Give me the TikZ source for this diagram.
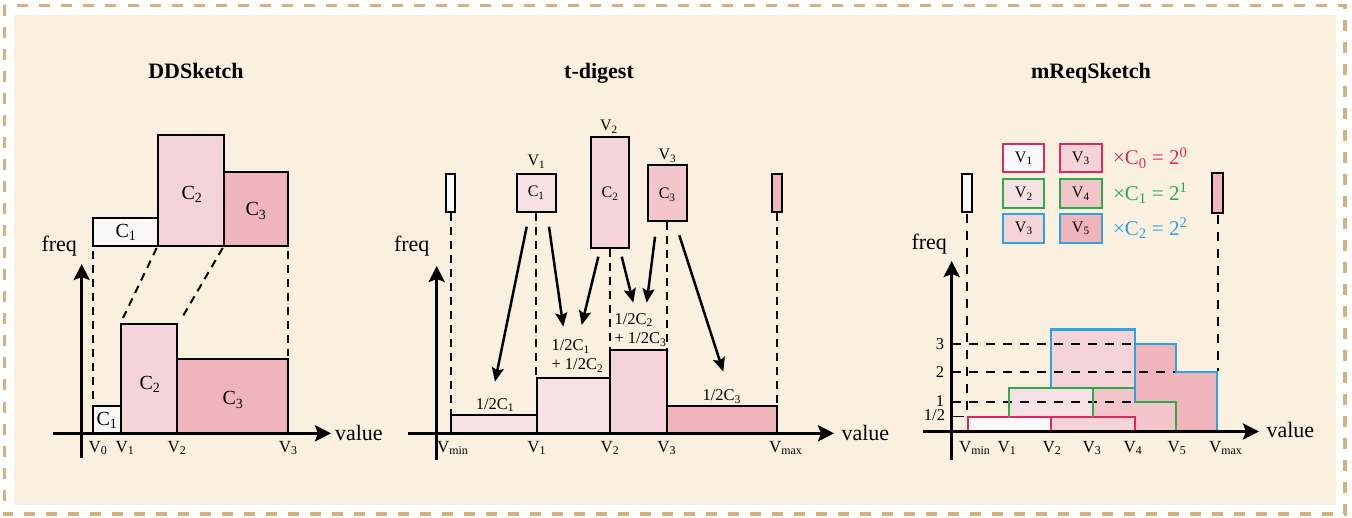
\documentclass[tikz,border=0pt]{standalone}
\usepackage{fontspec}
\setmainfont{Liberation Serif}
\usetikzlibrary{arrows.meta}
\definecolor{cream}{HTML}{FAF0E0}
\definecolor{tanc}{HTML}{D4B280}
\definecolor{wbox}{HTML}{F8F8F8}
\definecolor{pkA}{HTML}{F6E2E5}
\definecolor{pkB}{HTML}{F4D4D8}
\definecolor{pkC}{HTML}{F2C6CB}
\definecolor{pkD}{HTML}{EFB5BA}
\definecolor{mred}{HTML}{DC2A5E}
\definecolor{mgreen}{HTML}{2EAA4A}
\definecolor{mblue}{HTML}{2EA3DD}
\newcommand{\sbs}[1]{\textsubscript{#1}}
\begin{document}
\begin{tikzpicture}[x=1pt,y=-1pt,
  every node/.style={inner sep=0pt, outer sep=0pt},
  ttl/.style={font=\fontsize{22}{26}\selectfont\bfseries, anchor=base},
  axl/.style={font=\fontsize{22}{26}\selectfont, anchor=base west},
  vl/.style={font=\fontsize{17}{20}\selectfont},
  cl/.style={font=\fontsize{20}{23}\selectfont},
  sm/.style={font=\fontsize{16}{19}\selectfont},
  hl/.style={font=\fontsize{16.5}{19.5}\selectfont},
  bx/.style={draw=black, line width=2pt},
  dsh/.style={dash pattern=on 8pt off 6pt, line width=2pt},
  dsm/.style={dash pattern=on 9pt off 8pt, line width=2pt},
  axis/.style={line width=3.2pt, -{Stealth[length=16pt,width=16pt,inset=3pt]}},
  arr/.style={line width=2.5pt, -{Stealth[length=14pt,width=12pt,inset=2.5pt]}},
  lb/.style={line width=2.2pt}
]
\useasboundingbox (0,0) rectangle (1352,518);
\fill[white] (0,0) rectangle (1352,518);
\fill[cream] (14,15) rectangle (1336,505);
\draw[tanc, line width=3.5pt, dash pattern=on 11pt off 11pt] (4.5,5.5) rectangle (1345,514);

% ================= DDSketch =================
\node[ttl] (t1) at (196,79) {DDSketch};
\draw[bx, fill=wbox] (93.3,218.3) rectangle (158.3,245.7);
\draw[bx, fill=pkB] (158.3,135) rectangle (224.3,245.7);
\draw[bx, fill=pkD] (224.3,172.3) rectangle (288.3,245.7);
\node[cl] (dc1) at (126,232) {C\sbs{1}};
\node[cl] (dc2) at (192,194) {C\sbs{2}};
\node[cl] (dc3) at (256,211) {C\sbs{3}};
\draw[dsh] (93.3,251) -- (93.3,404);
\draw[dsh] (156.7,248) -- (123,318);
\draw[dsh] (222.7,248) -- (183,316);
\draw[dsh] (288.3,251) -- (288.3,356);
\draw[bx, fill=wbox] (93.3,406) rectangle (120.7,433.3);
\draw[bx, fill=pkB] (120.7,324) rectangle (176.7,433.3);
\draw[bx, fill=pkD] (176.7,359.3) rectangle (288.3,433.3);
\node[cl] (db1) at (107,420) {C\sbs{1}};
\node[cl] (db2) at (150,384) {C\sbs{2}};
\node[cl] (db3) at (233,400) {C\sbs{3}};
\coordinate (dy0) at (81.7,458);
\coordinate (dy1) at (81.7,264);
\coordinate (dx0) at (53,433.3);
\coordinate (dx1) at (331,433.3);
\draw[axis] (dy0) -- (dy1);
\draw[axis] (dx0) -- (dx1);
\node[axl] (dfreq) at (41.5,252) {freq};
\node[axl] (dval) at (335,440) {value};
\node[vl] (dv0) at (98,448) {V\sbs{0}};
\node[vl] (dv1) at (125,448) {V\sbs{1}};
\node[vl] (dv2) at (177,448) {V\sbs{2}};
\node[vl] (dv3) at (288.3,448) {V\sbs{3}};

% ================= t-digest =================
\node[ttl] (t2) at (599,79) {t-digest};
% bars
\draw[bx, fill=pkA] (450.7,415) rectangle (536.7,433.3);
\draw[bx, fill=pkA] (536.7,378.3) rectangle (610,433.3);
\draw[bx, fill=pkB] (610,350) rectangle (666.7,433.3);
\draw[bx, fill=pkD] (666.7,406) rectangle (776.7,433.3);
% centroid boxes
\draw[bx, fill=wbox] (446,174) rectangle (455.3,212.3);
\draw[bx, fill=pkA] (516.7,174) rectangle (555.7,211.7);
\draw[bx, fill=pkB] (590.7,137.3) rectangle (629,248.3);
\draw[bx, fill=pkC] (647.7,165) rectangle (686.7,220.7);
\draw[bx, fill=pkD] (772.3,174) rectangle (782,212.3);
\node[sm] (tc1) at (536.2,193) {C\sbs{1}};
\node[sm] (tc2) at (610,194) {C\sbs{2}};
\node[sm] (tc3) at (667.2,195) {C\sbs{3}};
\node[sm] (tv1) at (536.4,162) {V\sbs{1}};
\node[sm] (tv2) at (609,127) {V\sbs{2}};
\node[sm] (tv3) at (667.5,156) {V\sbs{3}};
% dashed verticals
\draw[dsh] (450.7,213) -- (450.7,414);
\draw[dsh] (536.4,213) -- (536.4,377);
\draw[dsh] (610,249) -- (610,349);
\draw[dsh] (667.2,222) -- (667.2,349);
\draw[dsh] (777.2,213) -- (777.2,405);
% arrows
\draw[arr] (526.7,226.7) -- (495,381.7);
\draw[arr] (549,226.7) -- (563.3,326.7);
\draw[arr] (598.3,256.7) -- (581.7,325);
\draw[arr] (621.7,256.7) -- (633.3,302.7);
\draw[arr] (655,236.7) -- (646.7,302.7);
\draw[arr] (679.3,235.3) -- (723.3,371.7);
% labels
\node[hl] (h1) at (495,405) {1/2C\sbs{1}};
\node[hl, align=left, anchor=west] (h2) at (551.5,356) {1/2C\sbs{1}\\+ 1/2C\sbs{2}};
\node[hl, align=left, anchor=west] (h3) at (614.5,330) {1/2C\sbs{2}\\+ 1/2C\sbs{3}};
\node[hl] (h4) at (721.7,396.5) {1/2C\sbs{3}};
% axes
\coordinate (ty0) at (436.7,460);
\coordinate (ty1) at (436.7,266);
\coordinate (tx0) at (408,433.3);
\coordinate (tx1) at (834,433.3);
\draw[axis] (ty0) -- (ty1);
\draw[axis] (tx0) -- (tx1);
\node[axl] (tfreq) at (394,252) {freq};
\node[axl] (tval) at (841.5,440) {value};
\node[vl, anchor=west] (tv0) at (437,448) {V\sbs{min}};
\node[vl] (tw1) at (536.7,448) {V\sbs{1}};
\node[vl] (tw2) at (610,448) {V\sbs{2}};
\node[vl] (tw3) at (666.7,448) {V\sbs{3}};
\node[vl, anchor=west] (tw4) at (769,448) {V\sbs{max}};

% ================= mReqSketch =================
\node[ttl] (t3) at (1091,79) {mReqSketch};
% legend
\draw[lb, draw=mred, fill=wbox] (1003.3,144) rectangle (1044.3,172.3);
\draw[lb, draw=mred, fill=pkB] (1060,144) rectangle (1101.7,172.3);
\draw[lb, draw=mgreen, fill=pkA] (1003.3,179.3) rectangle (1044.3,207.7);
\draw[lb, draw=mgreen, fill=pkC] (1060,179.3) rectangle (1101.7,207.7);
\draw[lb, draw=mblue, fill=pkB] (1003.3,214) rectangle (1044.3,242.7);
\draw[lb, draw=mblue, fill=pkD] (1060,214) rectangle (1101.7,242.7);
\node[sm] (l1) at (1023.8,158.2) {V\sbs{1}};
\node[sm] (l2) at (1080.8,158.2) {V\sbs{3}};
\node[sm] (l3) at (1023.8,193.5) {V\sbs{2}};
\node[sm] (l4) at (1080.8,193.5) {V\sbs{4}};
\node[sm] (l5) at (1023.8,228.3) {V\sbs{3}};
\node[sm] (l6) at (1080.8,228.3) {V\sbs{5}};
\node[font=\fontsize{21}{25}\selectfont, text=mred, anchor=base west] (e1) at (1113,165) {×C\sbs{0} = 2\textsuperscript{0}};
\node[font=\fontsize{21}{25}\selectfont, text=mgreen, anchor=base west] (e2) at (1113,200.5) {×C\sbs{1} = 2\textsuperscript{1}};
\node[font=\fontsize{21}{25}\selectfont, text=mblue, anchor=base west] (e3) at (1113,235.3) {×C\sbs{2} = 2\textsuperscript{2}};
% small end boxes
\draw[bx, fill=wbox] (962.3,174) rectangle (971.7,212.3);
\draw[bx, fill=pkD] (1212.3,173.3) rectangle (1222.7,213.3);
% fills
\fill[wbox] (968.3,417) rectangle (1051,430.5);
\fill[pkB] (1051,417) rectangle (1135,430.5);
\fill[pkA] (1009.3,387.7) rectangle (1093.3,417);
\fill[pkC] (1093.3,417) -- (1093.3,387.7) -- (1135,387.7) -- (1135,401.7) -- (1175.7,401.7) -- (1175.7,430.5) -- (1135,430.5) -- (1135,417) -- cycle;
\fill[pkB] (1051,329.5) rectangle (1135,387.7);
\fill[pkD] (1135,401.7) -- (1135,344) -- (1175.7,344) -- (1175.7,372.3) -- (1216.7,372.3) -- (1216.7,430.5) -- (1175.7,430.5) -- (1175.7,401.7) -- cycle;
% dashed guides
\draw[dsm] (952,344) -- (1135,344);
\draw[dsm] (952,372.3) -- (1175.7,372.3);
\draw[dsm] (952,401.7) -- (1135,401.7);
\draw[line width=1.8pt] (952,416.5) -- (964,416.5);
\draw[dsm] (967,214) -- (967,416);
\draw[dsm] (1217.5,215) -- (1217.5,371);
% outlines
\draw[lb, draw=mred] (968.3,430.5) -- (968.3,417) -- (1135,417) -- (1135,430.5);
\draw[lb, draw=mred] (1051,417) -- (1051,430.5);
\draw[lb, draw=mgreen] (1009.3,417) -- (1009.3,387.7) -- (1135,387.7) -- (1135,401.7) -- (1175.7,401.7) -- (1175.7,430.5);
\draw[lb, draw=mgreen] (1093.3,387.7) -- (1093.3,417);
\draw[lb, draw=mblue] (1051,387.7) -- (1051,329.5) -- (1135,329.5) -- (1135,401.7);
\draw[lb, draw=mblue] (1135,344) -- (1175.7,344) -- (1175.7,372.3) -- (1216.7,372.3) -- (1216.7,430.5);
% axes
\coordinate (my0) at (951.7,460);
\coordinate (my1) at (951.7,261);
\coordinate (mx0) at (923,431.5);
\coordinate (mx1) at (1259,431.5);
\draw[axis] (my0) -- (my1);
\draw[axis] (mx0) -- (mx1);
\node[axl] (mfreq) at (911.5,250) {freq};
\node[axl] (mval) at (1266.5,437) {value};
\node[hl] (k3) at (940,344) {3};
\node[hl] (k2) at (940,372) {2};
\node[hl] (k1) at (940,401) {1};
\node[hl] (kh) at (934.5,415) {1/2};
\node[vl, anchor=west] (mv0) at (959,448) {V\sbs{min}};
\node[vl] (mw1) at (1007,448) {V\sbs{1}};
\node[vl] (mw2) at (1052,448) {V\sbs{2}};
\node[vl] (mw3) at (1092,448) {V\sbs{3}};
\node[vl] (mw4) at (1133,448) {V\sbs{4}};
\node[vl] (mw5) at (1177,448) {V\sbs{5}};
\node[vl, anchor=west] (mw6) at (1209,448) {V\sbs{max}};
\end{tikzpicture}
\end{document}
